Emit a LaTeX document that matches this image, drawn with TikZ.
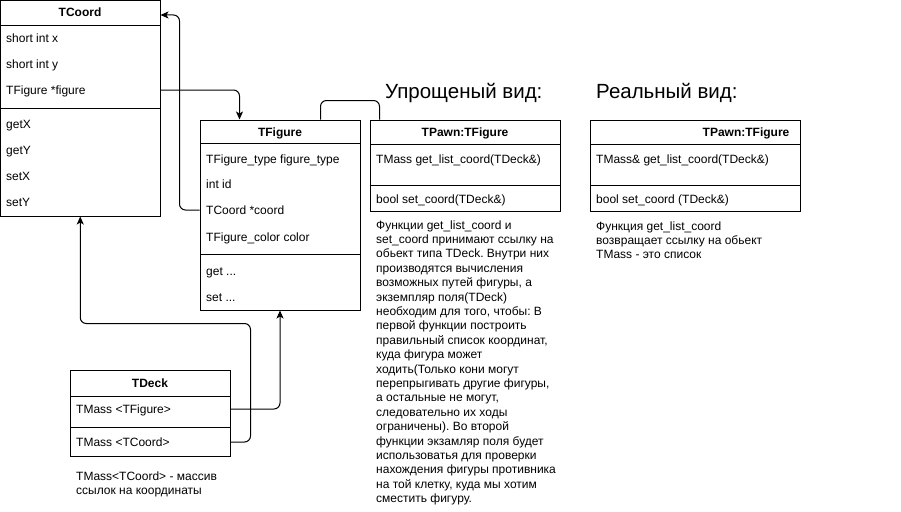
\documentclass[tikz,border=0pt]{standalone}
\usepackage{fontspec}
\setmainfont{Liberation Sans}
\usetikzlibrary{arrows.meta,calc}
\frenchspacing
\tikzset{
  box/.style={draw, line width=1pt, fill=white, inner sep=0pt},
  sepline/.style={line width=1pt},
  lbl/.style={anchor=base west, inner sep=0pt, font=\fontsize{12}{14.4}\selectfont},
  hdr/.style={anchor=base, inner sep=0pt, font=\fontsize{12}{14.4}\selectfont\bfseries},
  title/.style={anchor=base west, inner sep=0pt, font=\fontsize{20.5}{24}\selectfont},
  note/.style={anchor=base west, inner sep=0pt, align=left, font=\fontsize{12}{14.4}\selectfont},
  conn/.style={line width=1pt, rounded corners=6pt},
  arr/.style={-{Stealth[length=8pt,width=7pt,inset=2pt]}}
}
\begin{document}
\begin{tikzpicture}[x=1pt,y=-1pt]
\fill[white] (0,0) rectangle (901,511);
\useasboundingbox (0,0) rectangle (901,511);

% TCoord
\node[box, minimum width=159.5pt, minimum height=215.5pt] (tcoord) at (80.25,108.25) {};
\draw[sepline] (0.5,26) -- (160,26);
\draw[sepline] (0.5,108) -- (160,108);
\node[hdr] (tcoordh) at (80,17) {TCoord};
\node[lbl] (cx) at (6,43) {short int x};
\node[lbl] (cy) at (6,68) {short int y};
\node[lbl] (cfig) at (6,94) {TFigure *figure};
\node[lbl] (cgx) at (6,128) {getX};
\node[lbl] (cgy) at (6,154) {getY};
\node[lbl] (csx) at (6,180) {setX};
\node[lbl] (csy) at (6,206) {setY};

% TFigure
\node[box, minimum width=160pt, minimum height=190pt] (tfig) at (280,215) {};
\draw[sepline] (200,143) -- (360,143);
\draw[sepline] (200,254) -- (360,254);
\node[hdr] (tfigh) at (280,136) {TFigure};
\node[lbl] (ftype) at (206,163) {TFigure\_type figure\_type};
\node[lbl] (fid) at (206,188) {int id};
\node[lbl] (fcoord) at (206,214) {TCoord *coord};
\node[lbl] (fcolor) at (206,241) {TFigure\_color color};
\node[lbl] (fget) at (206,275) {get ...};
\node[lbl] (fset) at (206,301) {set ...};

% TPawn simplified
\node[title] (t1) at (385,98) {Упрощеный вид:};
\node[box, minimum width=190pt, minimum height=91pt] (pawn) at (465,165.5) {};
\draw[sepline] (370,144) -- (560,144);
\draw[sepline] (370,185) -- (560,185);
\node[hdr] (pawnh) at (465,136) {TPawn:TFigure};
\node[lbl] (pget) at (376,163) {TMass get\_list\_coord(TDeck\&)};
\node[lbl] (pset) at (376,203) {bool set\_coord(TDeck\&)};
\node[note] (pnote) at (376,502.6) {Функции get\_list\_coord и\\
set\_coord принимают ссылку на\\
обьект типа TDeck. Внутри них\\
производятся вычисления\\
возможных путей фигуры, а\\
экземпляр поля(TDeck)\\
необходим для того, чтобы: В\\
первой функции построить\\
правильный список координат,\\
куда фигура может\\
ходить(Только кони могут\\
перепрыгивать другие фигуры,\\
а остальные не могут,\\
следовательно их ходы\\
ограничены). Во второй\\
функции экзамляр поля будет\\
использоватья для проверки\\
нахождения фигуры противника\\
на той клетку, куда мы хотим\\
сместить фигуру.};

% TPawn real
\node[title] (t2) at (596,98) {Реальный вид:};
\node[box, minimum width=210pt, minimum height=91pt] (real) at (695,165.5) {};
\draw[sepline] (590,144) -- (800,144);
\draw[sepline] (590,185) -- (800,185);
\node[hdr] (realh) at (746,136) {TPawn:TFigure};
\node[lbl] (rget) at (596,163) {TMass\& get\_list\_coord(TDeck\&)};
\node[lbl] (rset) at (596,203) {bool set\_coord (TDeck\&)};
\node[note] (rnote) at (596,258.8) {Функция get\_list\_coord\\
возвращает ссылку на обьект\\
TMass - это список};

% TDeck
\node[box, minimum width=160pt, minimum height=86pt] (tdeck) at (150,413) {};
\draw[sepline] (70,396) -- (230,396);
\draw[sepline] (70,427) -- (230,427);
\node[hdr] (tdeckh) at (150,387) {TDeck};
\node[lbl] (dfig) at (76,413) {TMass <TFigure>};
\node[lbl] (dcoord) at (76,446) {TMass <TCoord>};
\node[note] (dnote) at (76,494.4) {TMass<TCoord> - массив\\ссылок на координаты};

% connectors
\draw[conn,arr] (tcoord.east |- 0,90) -| ($(tfig.north west)+(40,0)$);
\draw[conn,arr] (tfig.west |- 0,210) -- ++(-20,0) |- ($(tcoord.north east)+(0,15)$);
\draw[conn,arr] (tdeck.east |- 0,409) -| (tfig.south);
\draw[conn,arr] (tdeck.east |- 0,442) -- ++(20,0) |- ($(tcoord.south)+(0,107)$) -- (tcoord.south);
\draw[conn] ($(tfig.north west)+(121,0)$) -- ++(0,-19) -| ($(pawn.north west)+(10,0)$);
\end{tikzpicture}
\end{document}
